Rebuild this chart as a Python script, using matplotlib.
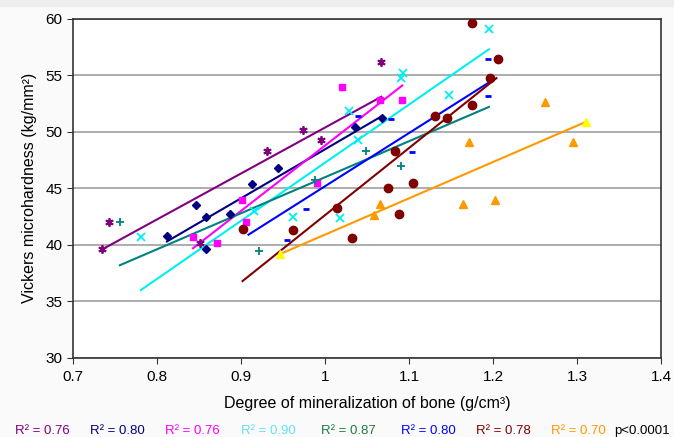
import matplotlib
matplotlib.use("Agg")
import matplotlib.pyplot as plt
import numpy as np

plt.rcParams['font.family'] = ['Liberation Sans', 'DejaVu Sans']

# ---- data ----
purple_x = [0.735, 0.743, 0.851, 0.931, 0.974, 0.995, 1.067]
purple_y = [39.6, 42.0, 40.2, 48.3, 50.2, 49.3, 56.2]
purple_trend_x = [0.735, 1.067]
purple_trend_y = [39.6, 53.1]

navy_x = [0.812, 0.846, 0.859, 0.859, 0.887, 0.913, 0.944, 1.036, 1.068]
navy_y = [40.8, 43.5, 42.5, 39.6, 42.7, 45.4, 46.8, 50.4, 51.2]
navy_trend_x = [0.812, 1.068]
navy_trend_y = [40.3, 51.4]

pink_x = [0.843, 0.871, 0.901, 0.906, 0.990, 1.020, 1.065, 1.092]
pink_y = [40.7, 40.2, 44.0, 42.0, 45.5, 54.0, 52.8, 52.8]
pink_trend_x = [0.843, 1.092]
pink_trend_y = [39.7, 54.1]

cyan_x = [0.781, 0.915, 0.962, 1.018, 1.028, 1.039, 1.091, 1.093, 1.148, 1.195]
cyan_y = [40.7, 43.0, 42.5, 42.4, 51.8, 49.3, 54.75, 55.2, 53.3, 59.1]
cyan_trend_x = [0.781, 1.195]
cyan_trend_y = [36.0, 57.3]

teal_x = [0.756, 0.903, 0.921, 0.988, 1.049, 1.091, 1.196]
teal_y = [42.0, 41.4, 39.5, 45.7, 48.3, 47.0, 54.8]
teal_trend_x = [0.756, 1.195]
teal_trend_y = [38.2, 52.2]

blue_x = [0.955, 0.978, 1.039, 1.079, 1.103, 1.105, 1.194, 1.194]
blue_y = [40.4, 43.2, 51.4, 51.1, 48.2, 45.6, 56.4, 53.2]
blue_trend_x = [0.909, 1.200]
blue_trend_y = [40.9, 54.6]

brown_x = [0.903, 0.962, 1.014, 1.032, 1.075, 1.083, 1.088, 1.105, 1.131,
           1.145, 1.175, 1.175, 1.196, 1.206]
brown_y = [41.4, 41.3, 43.3, 40.6, 45.0, 48.3, 42.7, 45.5, 51.4,
           51.2, 52.4, 59.6, 54.8, 56.4]
brown_trend_x = [0.902, 1.204]
brown_trend_y = [36.8, 54.75]

orange_x = [1.058, 1.065, 1.164, 1.171, 1.202, 1.262, 1.295]
orange_y = [42.6, 43.6, 43.6, 49.1, 44.0, 52.6, 49.1]
yellow_x = [0.947, 1.311]
yellow_y = [39.2, 50.9]
orange_trend_x = [0.947, 1.311]
orange_trend_y = [39.2, 50.9]

r2_labels = ["R² = 0.76", "R² = 0.80", "R² = 0.76", "R² = 0.90",
             "R² = 0.87", "R² = 0.80", "R² = 0.78", "R² = 0.70"]
p_label = "p<0.0001"

x_ticks = [0.7, 0.8, 0.9, 1.0, 1.1, 1.2, 1.3, 1.4]
x_tick_labels = ["0.7", "0.8", "0.9", "1", "1.1", "1.2", "1.3", "1.4"]
y_ticks = [30, 35, 40, 45, 50, 55, 60]

# ---- styling ----
c_purple = '#800080'
c_navy = '#000080'
c_pink = '#ff00ff'
c_cyan = '#00f0f0'
c_teal = '#008080'
c_blue = '#0000ff'
c_brown = '#800000'
c_orange = '#ff9900'
c_yellow = '#ffff00'

fig = plt.figure(figsize=(6.74, 4.37), dpi=100, facecolor='#fafafa')
# light grey band at the very top, as in the reference
fig.patches.append(plt.Rectangle((0, 1 - 6 / 437), 1, 6 / 437, transform=fig.transFigure,
                                 color='#eeeeee', zorder=0))
ax = fig.add_axes([0.108, 0.181, 0.873, 0.776])
ax.set_facecolor('white')

lw = 1.5
# trend lines
ax.plot(purple_trend_x, purple_trend_y, color=c_purple, lw=lw, zorder=3)
ax.plot(navy_trend_x, navy_trend_y, color=c_navy, lw=lw, zorder=3)
ax.plot(pink_trend_x, pink_trend_y, color=c_pink, lw=lw, zorder=3)
ax.plot(cyan_trend_x, cyan_trend_y, color=c_cyan, lw=lw, zorder=3)
ax.plot(teal_trend_x, teal_trend_y, color=c_teal, lw=lw, zorder=3)
ax.plot(blue_trend_x, blue_trend_y, color=c_blue, lw=lw, zorder=3)
ax.plot(brown_trend_x, brown_trend_y, color=c_brown, lw=lw, zorder=3)
ax.plot(orange_trend_x, orange_trend_y, color=c_orange, lw=lw, zorder=3)

# points
ax.plot(purple_x, purple_y, ls='none', marker=(6, 2, 0), ms=6, mew=1.3, color=c_purple, zorder=4)
ax.plot(navy_x, navy_y, ls='none', marker='D', ms=4.5, color=c_navy, zorder=4)
ax.plot(pink_x, pink_y, ls='none', marker='s', ms=5, color=c_pink, zorder=4)
ax.plot(cyan_x, cyan_y, ls='none', marker='x', ms=6, mew=1.3, color=c_cyan, zorder=4)
ax.plot(teal_x, teal_y, ls='none', marker='+', ms=6, mew=1.3, color=c_teal, zorder=4)
ax.plot(blue_x, blue_y, ls='none', marker='_', ms=5, mew=2, color=c_blue, zorder=4)
ax.plot(brown_x, brown_y, ls='none', marker='o', ms=6, color=c_brown, zorder=4)
ax.plot(orange_x, orange_y, ls='none', marker='^', ms=6, color=c_orange, zorder=4)
ax.plot(yellow_x, yellow_y, ls='none', marker='^', ms=6, color=c_yellow, zorder=4)

ax.set_xlim(0.7, 1.4)
ax.set_ylim(30, 60)
ax.set_xticks(x_ticks)
ax.set_xticklabels(x_tick_labels)
ax.set_yticks(y_ticks)
ax.yaxis.grid(True, color='#a0a0a0', lw=1.2)
ax.set_axisbelow(True)
for s in ax.spines.values():
    s.set_color('#333333')
    s.set_linewidth(1.2)
ax.tick_params(axis='both', labelsize=11, color='#333333', length=4, direction='out')
ax.tick_params(axis='x', pad=5)

ax.set_xlabel("Degree of mineralization of bone (g/cm³)", fontsize=11.5, labelpad=8)
ax.set_ylabel("Vickers microhardness (kg/mm²)", fontsize=11.5, labelpad=6)

legend_colors = [c_purple, c_navy, c_pink, '#66e0f0', '#1e7b3e', c_blue, c_brown, c_orange]
legend_xpos = [15, 90, 165, 241, 321, 401, 476, 551]
for lbl, col, xp in zip(r2_labels, legend_colors, legend_xpos):
    fig.text(xp / 674, 1 - 431 / 437, lbl, color=col, fontsize=9.5, va='center', ha='left')
fig.text(670 / 674, 1 - 431 / 437, p_label, color='black', fontsize=9.5, va='center', ha='right')

fig.savefig("out.png", dpi=100, facecolor=fig.get_facecolor())
